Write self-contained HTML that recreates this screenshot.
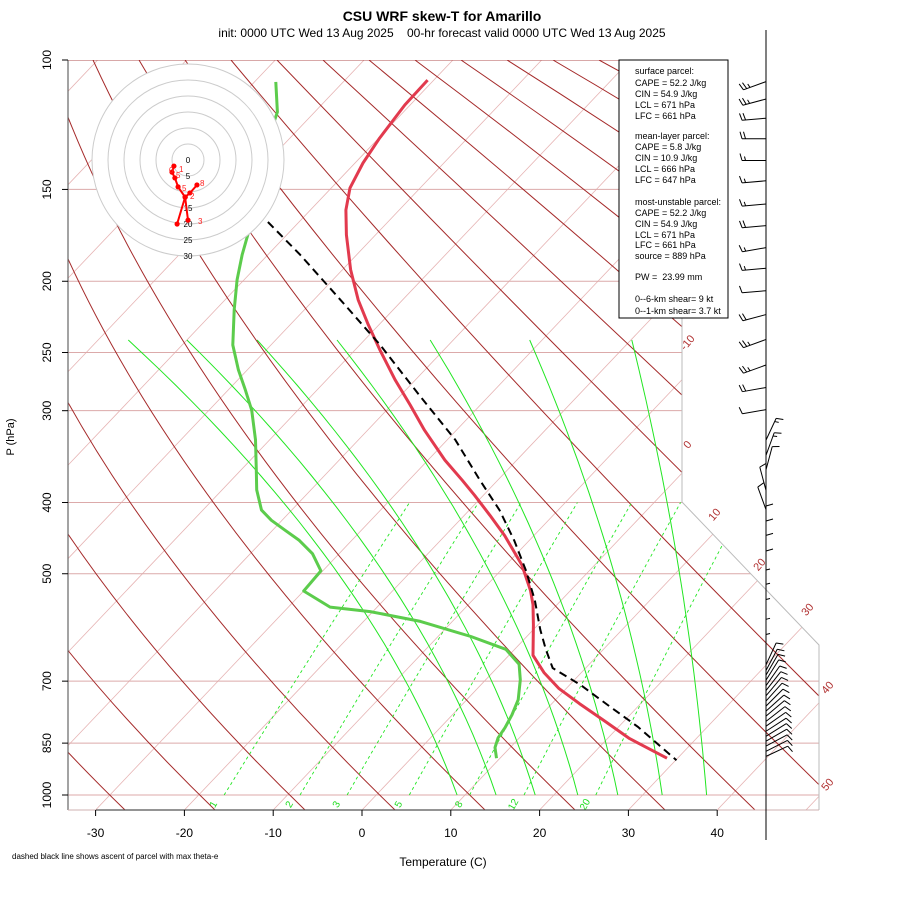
<!DOCTYPE html>
<html><head><meta charset="utf-8"><style>
body{margin:0;background:#fff}
svg{display:block;font-family:"Liberation Sans",sans-serif}
</style></head><body>
<svg id="chart" width="900" height="900" viewBox="0 0 900 900" xmlns="http://www.w3.org/2000/svg">
<defs><clipPath id="plotclip"><polygon points="68,60 682,60 682,502 819,645 819,810 68,810"/></clipPath></defs>
<text x="442" y="21" text-anchor="middle" font-size="14" font-weight="bold">CSU WRF skew-T for Amarillo</text>
<text x="442" y="37" text-anchor="middle" font-size="12" xml:space="preserve">init: 0000 UTC Wed 13 Aug 2025    00-hr forecast valid 0000 UTC Wed 13 Aug 2025</text>
<g id="bg" clip-path="url(#plotclip)"></g>
<g id="axes"></g>
<g id="data"></g>
<g id="hodo"></g>
<g id="barbs"></g>
<g font-size="9">
<rect x="619" y="60" width="109" height="258" fill="#fff" stroke="#000" stroke-width="1"/>
<text x="635" y="74">surface parcel:</text>
<text x="635" y="86">CAPE = 52.2 J/kg</text>
<text x="635" y="97">CIN = 54.9 J/kg</text>
<text x="635" y="108">LCL = 671 hPa</text>
<text x="635" y="119">LFC = 661 hPa</text>
<text x="635" y="139">mean-layer parcel:</text>
<text x="635" y="150">CAPE = 5.8 J/kg</text>
<text x="635" y="161">CIN = 10.9 J/kg</text>
<text x="635" y="172">LCL = 666 hPa</text>
<text x="635" y="183">LFC = 647 hPa</text>
<text x="635" y="205">most-unstable parcel:</text>
<text x="635" y="216">CAPE = 52.2 J/kg</text>
<text x="635" y="227">CIN = 54.9 J/kg</text>
<text x="635" y="238">LCL = 671 hPa</text>
<text x="635" y="248">LFC = 661 hPa</text>
<text x="635" y="259">source = 889 hPa</text>
<text x="635" y="280" xml:space="preserve">PW =  23.99 mm</text>
<text x="635" y="302">0--6-km shear= 9 kt</text>
<text x="635" y="314">0--1-km shear= 3.7 kt</text>
</g>
<text x="443" y="866" text-anchor="middle" font-size="12">Temperature (C)</text>
<text transform="translate(14,437) rotate(-90)" text-anchor="middle" font-size="11">P (hPa)</text>
<text x="12" y="859" font-size="8">dashed black line shows ascent of parcel with max theta-e</text>
</svg>
<script>
const pTicks=[100,150,200,250,300,400,500,700,850,1000];
const tTicks=[-30,-20,-10,0,10,20,30,40];
const isoLabels=[-10,0,10,20,30,40,50];
const mixRatios=[1,2,3,5,8,12,20];
const moistBottomT=[9.1,13.5,17.9,22.7,27.2,32.2,37.2];
const moistTopT=[-76.6,-70,-62.1,-53.1,-42.6,-31.4,-19.9];
// temperature profile
const tempP=[106.5,115.1,127.7,138.1,149.3,160,172.9,192.8,212,229.2,248,272.3,294.7,318.9,350.2,373,391,416.5,443.6,486.5,527,551,587,645.5,681.5,716.5,751,792,838,891];
const tempT=[-70.7,-70.6,-69.9,-69.1,-67.9,-66.0,-63.3,-59.1,-55.0,-51.2,-47.2,-42.3,-37.9,-33.6,-28.1,-24.0,-21.0,-17.1,-13.3,-8.2,-4.5,-2.7,-0.5,2.7,5.8,9.2,13.1,17.7,22.5,28.8];
// dewpoint profile
const dewP=[107.1,117.7,122.6,132.6,145.7,160,172.9,184,199,218.7,244.2,264,281,299.5,328.6,361,384.5,409.6,422.9,436.3,450.4,469.5,495.6,527.7,555,563,580.6,608.6,633.5,664,697,742,778,810,836,862,891];
const dewT=[-87.6,-84.2,-83.3,-81.0,-78.7,-76.2,-74.4,-72.9,-70.8,-67.9,-64.3,-61.0,-58.1,-55.2,-51.6,-48.3,-46.1,-43.4,-41.2,-38.6,-35.9,-33.0,-30.2,-30.0,-25.3,-20.3,-13.6,-6.3,-1.0,2.1,3.9,5.8,6.7,7.3,7.6,8.3,9.6];
// parcel ascent
const parcelP=[166.1,184,212,244.2,285.9,328.6,373,409.6,450.4,495.6,543,596,633.5,672,708,756.6,808,897];
const parcelT=[-73.5,-66.4,-57.0,-47.7,-37.9,-29.1,-22.0,-16.6,-11.7,-7.1,-3.0,0.8,3.5,6.3,11.2,16.7,22.2,30.1];
// hodograph (kt)
const hodoU=[2.8,0.6,-0.9,-3.1,-4.1,-5.0,-4.4];
const hodoV=[-7.8,-10.3,-11.6,-8.4,-5.6,-3.8,-1.9];
const hodoU2=[-0.9,0.0];
const hodoV2=[-11.6,-18.8];
const hodoU3=[-0.9,-3.4];
const hodoV3=[-11.6,-20.0];
const hodoRings=[5,10,15,20,25,30];
const hodoRingLabels=[0,5,15,20,25,30];
// wind barbs
const barbP=[107,113,120,128,137,146,157,168,180,192,206,222,240,260,279,299,329,345,361,385,409,436,457,478,502,527,551,578,615,645,665,677,687,698,710,721,733,745,757,769,781,794,806,819,832,845,858,872,886];
const barbDir=[250,255,265,270,270,265,265,265,260,265,265,255,250,250,260,260,25,20,15,345,340,0,0,0,0,0,0,0,0,0,25,28,30,32,35,38,40,42,45,48,50,52,55,57,58,60,62,63,65];
const barbSpd=[25,25,20,20,15,15,15,20,15,15,10,20,25,25,20,10,15,15,10,10,10,10,10,10,10,5,5,5,5,5,10,10,10,10,10,10,10,10,10,10,10,10,10,10,10,10,10,10,10];

const NS='http://www.w3.org/2000/svg';
function yP(p){return 60+735*Math.log10(p/100);}
function xT(T,p){return 362+8.88*T+0.95*(810-yP(p));}
function mk(tag,attrs,parent){const e=document.createElementNS(NS,tag);for(const k in attrs)e.setAttribute(k,attrs[k]);parent.appendChild(e);return e;}
const bg=document.getElementById('bg'),ax=document.getElementById('axes'),dg=document.getElementById('data'),hg=document.getElementById('hodo'),bgb=document.getElementById('barbs');

// isotherms
for(let T=-130;T<=60;T+=10){
  const l=mk('line',{x1:xT(T,1050),y1:yP(1050),x2:xT(T,100),y2:yP(100),stroke:'#e6b4b4','stroke-width':0.8},bg);
  
  
}
// pressure lines
pTicks.forEach(p=>{
  const y=yP(p);
  const l=mk('line',{x1:68,y1:y,x2:830,y2:y,stroke:(p==100?'#b05050':'#dcaaaa'),'stroke-width':1},bg);
  
  
});
// dry adiabats (fan of curves)
for(let n=-4;n<=22;n++){
  const xb=125+90*n, xt=93+46*(n-6), h=398;
  const pth=mk('path',{d:`M${xb},810 Q${xb-1.03*h},${810-h} ${xt},60`,fill:'none',stroke:'#a52a2a','stroke-width':1},bg);
  
  
}
// moist adiabats
moistBottomT.forEach((tb,i)=>{
  const xb=xT(tb,1000), yb=yP(1000), yt=340, xt=362+8.88*moistTopT[i]+0.95*470;
  let d='';
  for(let k=0;k<=30;k++){const v=k/30;const x=xb-(xb-xt)*(0.5*v+0.5*v*v);const y=yb-(yb-yt)*v;d+=(k?'L':'M')+x.toFixed(1)+','+y.toFixed(1);}
  const pth=mk('path',{d:d,fill:'none',stroke:'#22e622','stroke-width':1},bg);
  
  
});
// mixing ratio lines
function tdew(w,p){const e=w*p/(622+w);const L=Math.log(e/6.112);return 243.5*L/(17.67-L);}
mixRatios.forEach(w=>{
  let d='';
  for(let k=0;k<=20;k++){const p=1000-k*30;d+=(k?'L':'M')+xT(tdew(w,p),p).toFixed(1)+','+yP(p).toFixed(1);}
  const pth=mk('path',{d:d,fill:'none',stroke:'#22e622','stroke-width':0.9,'stroke-dasharray':'3,3'},bg);
  
  
  const x=xT(tdew(w,1000),1000)-8;
  const t=mk('text',{transform:`translate(${x.toFixed(1)},806) rotate(-60)`,'font-size':10,fill:'#22dd22','text-anchor':'middle'},ax);
  t.textContent=w;
  
  
});
// plot boundary
mk('polyline',{points:'682,60 682,502 819,645 819,810',fill:'none',stroke:'#bbbbbb','stroke-width':1},ax);
mk('line',{x1:68,y1:60,x2:68,y2:810,stroke:'#666','stroke-width':1.2},ax);
mk('line',{x1:68,y1:810,x2:819,y2:810,stroke:'#cfb0b0','stroke-width':1},ax);
mk('line',{x1:96,y1:810,x2:717,y2:810,stroke:'#555','stroke-width':1.2},ax);
// isotherm labels
const isoPos=[[688,343],[688,445],[715,515],[760,565],[808,610],[828,688],[828,785]];
isoLabels.forEach((v,i)=>{
  const t=mk('text',{transform:`translate(${isoPos[i][0]},${isoPos[i][1]}) rotate(-50)`,'font-size':11,fill:'#b03030','text-anchor':'middle','dominant-baseline':'middle'},ax);
  t.textContent=v;
  
  
});
// axis ticks
pTicks.forEach(p=>{
  const y=yP(p);
  mk('line',{x1:62,y1:y,x2:68,y2:y,stroke:'#000'},ax);
  const t=mk('text',{transform:`translate(51,${y}) rotate(-90)`,'font-size':12,'text-anchor':'middle'},ax);
  t.textContent=p;
  
  
});
tTicks.forEach(T=>{
  const x=362+8.88*T;
  mk('line',{x1:x,y1:810,x2:x,y2:816,stroke:'#000'},ax);
  const t=mk('text',{x:x,y:837,'font-size':12,'text-anchor':'middle'},ax);
  t.textContent=T;
  
  
});
// data lines
function profile(P,T){return P.map((p,i)=>xT(T[i],p).toFixed(1)+','+yP(p).toFixed(1)).join(' ');}
const dl=mk('polyline',{points:profile(dewP,dewT),fill:'none',stroke:'#5ccc4c','stroke-width':3,'stroke-linejoin':'round'},dg);


const tl=mk('polyline',{points:profile(tempP,tempT),fill:'none',stroke:'#e23a4e','stroke-width':3,'stroke-linejoin':'round'},dg);


const pl=mk('polyline',{points:profile(parcelP,parcelT),fill:'none',stroke:'#000','stroke-width':2,'stroke-dasharray':'8,5'},dg);


// hodograph
const hc=[188,160],hs=3.2;
mk('circle',{cx:hc[0],cy:hc[1],r:30*hs,fill:'#fff',stroke:'none'},hg);
hodoRings.forEach(r=>{
  const c=mk('circle',{cx:hc[0],cy:hc[1],r:r*hs,fill:'none',stroke:'#cccccc','stroke-width':1},hg);
  
  
});
hodoRingLabels.forEach(v=>{
  const t=mk('text',{x:hc[0],y:hc[1]+v*hs+3,'font-size':8,'text-anchor':'middle'},hg);
  t.textContent=v;
  
  
});
function hpts(U,V){return U.map((u,i)=>(hc[0]+u*hs).toFixed(1)+','+(hc[1]-V[i]*hs).toFixed(1)).join(' ');}
[[hodoU,hodoV],[hodoU2,hodoV2],[hodoU3,hodoV3]].forEach(([U,V])=>{
  const l=mk('polyline',{points:hpts(U,V),fill:'none',stroke:'#ff0000','stroke-width':2},hg);
  
  
  U.forEach((u,i)=>{
    const c=mk('circle',{cx:hc[0]+u*hs,cy:hc[1]-V[i]*hs,r:2.6,fill:'#ff0000'},hg);
    
    
  });
});
[['0',169,173],['1',179,172],['5',176,178],['5',182,191],['2',190,199],['8',200,186],['3',198,224]].forEach(a=>{
  const t=mk('text',{x:a[1],y:a[2],'font-size':8,fill:'#ff2020'},hg);
  t.textContent=a[0];
  
  
});
// wind barbs
mk('line',{x1:766,y1:30,x2:766,y2:840,stroke:'#000','stroke-width':1},bgb);
barbP.forEach((p,i)=>{
  const y=yP(p), d=barbDir[i]*Math.PI/180, L=24;
  const sx=Math.sin(d), sy=-Math.cos(d);
  const ex=766+L*sx, ey=y+L*sy;
  const g=mk('g',{stroke:'#000','stroke-width':1,fill:'none'},bgb);
  
  
  mk('line',{x1:766,y1:y,x2:ex,y2:ey},g);
  let s=barbSpd[i], pos=0;
  const fx=-sy, fy=sx;
  while(s>=10){const bx=ex-sx*pos,by=ey-sy*pos;mk('line',{x1:bx,y1:by,x2:bx+fx*7+sx*2,y2:by+fy*7+sy*2},g);pos+=3.5;s-=10;}
  if(s>=5){if(pos==0)pos=3.5;const bx=ex-sx*pos,by=ey-sy*pos;mk('line',{x1:bx,y1:by,x2:bx+fx*4+sx*1,y2:by+fy*4+sy*1},g);}
});
</script>
</body></html>
